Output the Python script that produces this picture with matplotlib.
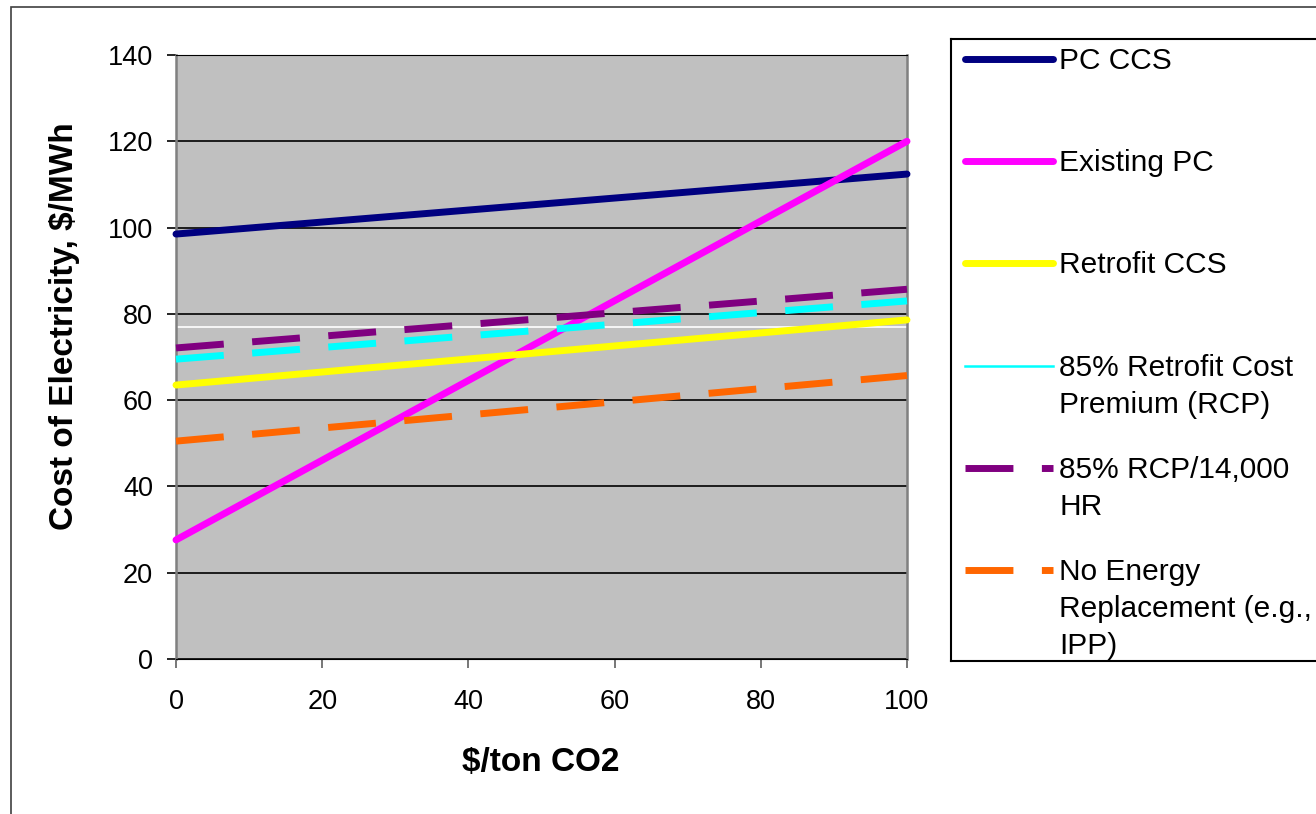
import matplotlib
matplotlib.use('Agg')
import matplotlib.pyplot as plt
from matplotlib.patches import Rectangle

plt.rcParams['font.family'] = ['Liberation Sans', 'DejaVu Sans']

# $/ton CO2 en los extremos
co2_price = [0, 100]

# costo de electricidad, $/MWh
pc_ccs = [98.5, 112.4]
existing_pc = [27.6, 120.0]
retrofit_ccs = [63.5, 78.6]
rcp85 = [69.5, 83.0]
rcp85_hr = [72.1, 85.7]
no_energy = [50.5, 65.7]
white_ref = 77

labels = ['PC CCS', 'Existing PC', 'Retrofit CCS',
          '85% Retrofit Cost\nPremium (RCP)', '85% RCP/14,000\nHR',
          'No Energy\nReplacement (e.g.,\nIPP)']
colores = ['#000080', '#FF00FF', '#FFFF00', '#00FFFF', '#800080', '#FF6600']
series = [pc_ccs, existing_pc, retrofit_ccs, rcp85, rcp85_hr, no_energy]
dashed = [False, False, False, True, True, True]

W, H = 1316, 814
fig = plt.figure(figsize=(W/100, H/100), dpi=100)
ax = fig.add_axes([176/W, 1-659/H, (907-176)/W, (659-55)/H])
ax.set_facecolor('#C0C0C0')

lw = 5.0
for y, c, d in zip(series, colores, dashed):
    if d:
        ax.plot(co2_price, y, color=c, lw=lw, linestyle=(0, (6.9, 4.1)),
                dash_capstyle='butt', clip_on=False, zorder=3)
    else:
        ax.plot(co2_price, y, color=c, lw=lw, solid_capstyle='round',
                clip_on=False, zorder=3)
ax.axhline(white_ref, color='white', lw=1.2, zorder=2)

ax.set_xlim(0, 100)
ax.set_ylim(0, 140)
ax.set_xticks(range(0, 101, 20))
ax.set_yticks(range(0, 141, 20))
ax.grid(True, axis='y', color='black', lw=1.2, zorder=1)
ax.set_axisbelow(True)
ax.tick_params(axis='both', direction='out', length=6.5, width=1.2, labelsize=19.5)
ax.tick_params(axis='y', pad=10)
ax.tick_params(axis='x', pad=15, color='#606060')
for s in ['left', 'right']:
    ax.spines[s].set_color('#808080')
    ax.spines[s].set_linewidth(1.8)
ax.spines['bottom'].set_color('black')
ax.spines['top'].set_color('black')

fig.text(541/W, 1-763/H, '$/ton CO2', ha='center', va='center',
         fontsize=24, fontweight='bold')
fig.text(65/W, 1-326/H, 'Cost of Electricity, $/MWh', ha='center', va='center',
         rotation=90, fontsize=24, fontweight='bold')

# leyenda a mano, coordenadas en pixeles
lax = fig.add_axes([951/W, 1-661/H, 400/W, (661-39)/H])
lax.set_xlim(951, 1351)
lax.set_ylim(661, 39)
lax.set_xticks([])
lax.set_yticks([])
for s in lax.spines.values():
    s.set_color('black')
    s.set_linewidth(1.5)
for i, (lab, c, d) in enumerate(zip(labels, colores, dashed)):
    base = 69 + 102.2*i
    yh = base - 10
    if i == 3:
        lax.plot([965, 1053], [yh, yh], color=c, lw=1.8)
    elif d:
        lax.plot([965, 1053], [yh, yh], color=c, lw=lw,
                 linestyle=(0, (6.9, 4.1)), dash_capstyle='butt')
    else:
        lax.plot([965, 1053], [yh, yh], color=c, lw=lw, solid_capstyle='round')
    for j, linea in enumerate(lab.split('\n')):
        lax.text(1059, base + 37*j, linea, ha='left', va='baseline', fontsize=21.5)

fig.patches.append(Rectangle((11/W, -0.1), 1.2, 1-7/H+0.1, transform=fig.transFigure,
                             fill=False, ec='#404040', lw=1.2))

plt.savefig('out.png', dpi=100)
